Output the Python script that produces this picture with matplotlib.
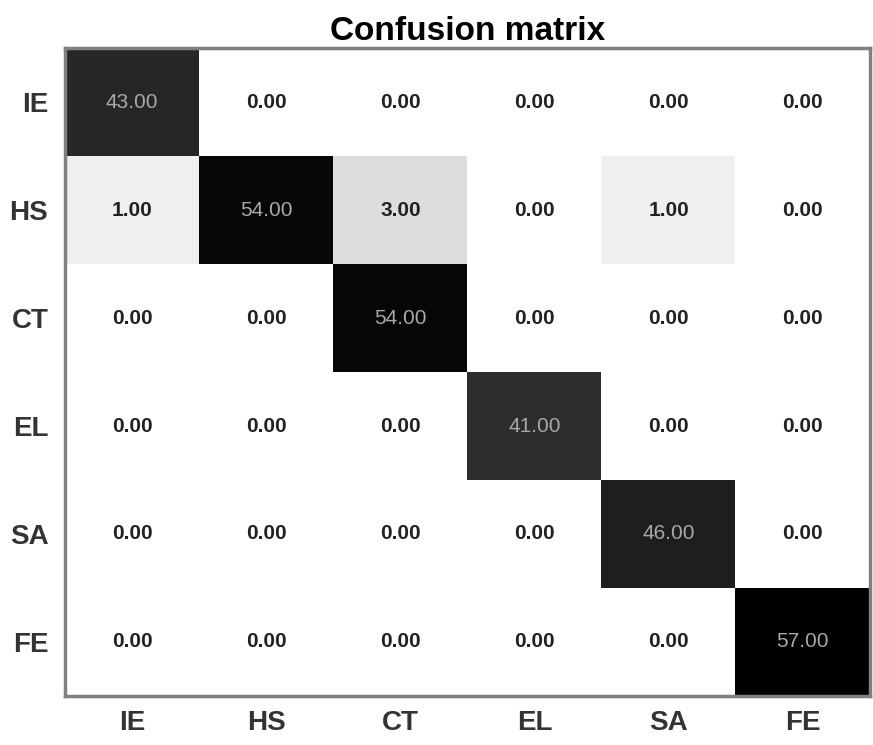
import numpy as np
import matplotlib.pyplot as plt
from matplotlib.colors import PowerNorm

classes = ["IE", "HS", "CT", "EL", "SA", "FE"]
cm = np.array([
    [43, 0, 0, 0, 0, 0],
    [1, 54, 3, 0, 1, 0],
    [0, 0, 54, 0, 0, 0],
    [0, 0, 0, 41, 0, 0],
    [0, 0, 0, 0, 46, 0],
    [0, 0, 0, 0, 0, 57],
])

plt.rcParams['font.family'] = ['Liberation Sans', 'DejaVu Sans']

fig = plt.figure(figsize=(8.73, 7.45), dpi=100)
ax = fig.add_axes([0.0745, 0.066, 0.922, 0.869])

ax.imshow(cm, cmap="Greys", norm=PowerNorm(gamma=0.5, vmin=0, vmax=cm.max()),
          aspect="auto", interpolation="nearest")

# cell values
for i in range(cm.shape[0]):
    for j in range(cm.shape[1]):
        if i == j:
            ax.text(j, i, f"{cm[i, j]:.2f}", ha="center", va="center",
                    fontsize=15, color="#a8a8a8")
        else:
            ax.text(j, i, f"{cm[i, j]:.2f}", ha="center", va="center",
                    fontsize=15, color="#222222", fontweight="bold")

ax.set_xticks(range(len(classes)))
ax.set_yticks(range(len(classes)))
ax.set_xticklabels(classes, fontsize=20, fontweight="bold")
ax.set_yticklabels(classes, fontsize=20, fontweight="bold")
ax.tick_params(length=0, pad=10, colors="#333333")
ax.tick_params(axis="y", pad=12)

for s in ax.spines.values():
    s.set_color("#808080")
    s.set_linewidth(2.5)

ax.set_title("Confusion matrix", fontsize=24, fontweight="bold", pad=6)

fig.savefig("out.png", dpi=100)
